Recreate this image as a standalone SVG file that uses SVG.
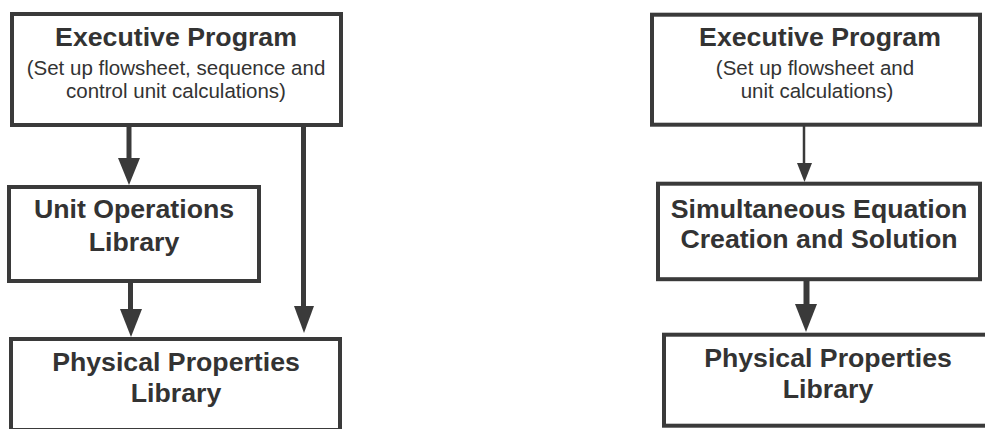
<svg xmlns="http://www.w3.org/2000/svg" width="985" height="429" viewBox="0 0 985 429">
<style>
.box{fill:#fff;stroke:#3a3a3a;stroke-width:4}
.t{font-family:"Liberation Sans",Arial,sans-serif;fill:#333;text-anchor:middle}
.b{font-weight:bold;font-size:26.7px}
.s{font-size:20.5px}
.shaft{stroke:#3a3a3a;fill:none}
.head{fill:#3a3a3a}
</style>
<rect width="985" height="429" fill="#fff"/>
<g id="connectors">
<line class="shaft" x1="129" y1="127" x2="129" y2="162" stroke-width="5"/>
<polygon class="head" points="118,158 140,158 129,185"/>
<line class="shaft" x1="130.5" y1="283" x2="130.5" y2="312" stroke-width="5"/>
<polygon class="head" points="120,309 142,309 131,337"/>
<line class="shaft" x1="303.5" y1="127" x2="303.5" y2="309" stroke-width="5"/>
<polygon class="head" points="294,306 314,306 304,333"/>
<line class="shaft" x1="804" y1="126" x2="804" y2="166" stroke-width="2.5"/>
<polygon class="head" points="797,163 812,163 804.5,182"/>
<line class="shaft" x1="806.5" y1="280" x2="806.5" y2="307" stroke-width="6"/>
<polygon class="head" points="795,304 817,304 806,332"/>
</g>
<g id="exec-left">
<rect class="box" x="12" y="14" width="329" height="111"/>
<text class="t b" x="176" y="45.7">Executive Program</text>
<text class="t s" x="176" y="75">(Set up flowsheet, sequence and</text>
<text class="t s" x="176" y="97.7">control unit calculations)</text>
</g>
<g id="unitops">
<rect class="box" x="9" y="187" width="250" height="94"/>
<text class="t b" x="134" y="218.3">Unit Operations</text>
<text class="t b" x="134" y="250.7">Library</text>
</g>
<g id="physprops-left">
<rect class="box" x="11" y="339" width="329" height="91"/>
<text class="t b" x="176" y="370.7">Physical Properties</text>
<text class="t b" x="176" y="401.7">Library</text>
</g>
<g id="exec-right">
<rect class="box" x="652" y="14.7" width="328" height="110"/>
<text class="t b" x="820" y="45.7">Executive Program</text>
<text class="t s" x="815" y="75">(Set up flowsheet and</text>
<text class="t s" x="817" y="97.7">unit calculations)</text>
</g>
<g id="simeq">
<rect class="box" x="658" y="183.7" width="322" height="95.5"/>
<text class="t b" x="819" y="218.3">Simultaneous Equation</text>
<text class="t b" x="819" y="248.3">Creation and Solution</text>
</g>
<g id="physprops-right">
<rect class="box" x="664" y="334.7" width="340" height="91"/>
<text class="t b" x="828" y="367.3">Physical Properties</text>
<text class="t b" x="828" y="398.3">Library</text>
</g>
</svg>
